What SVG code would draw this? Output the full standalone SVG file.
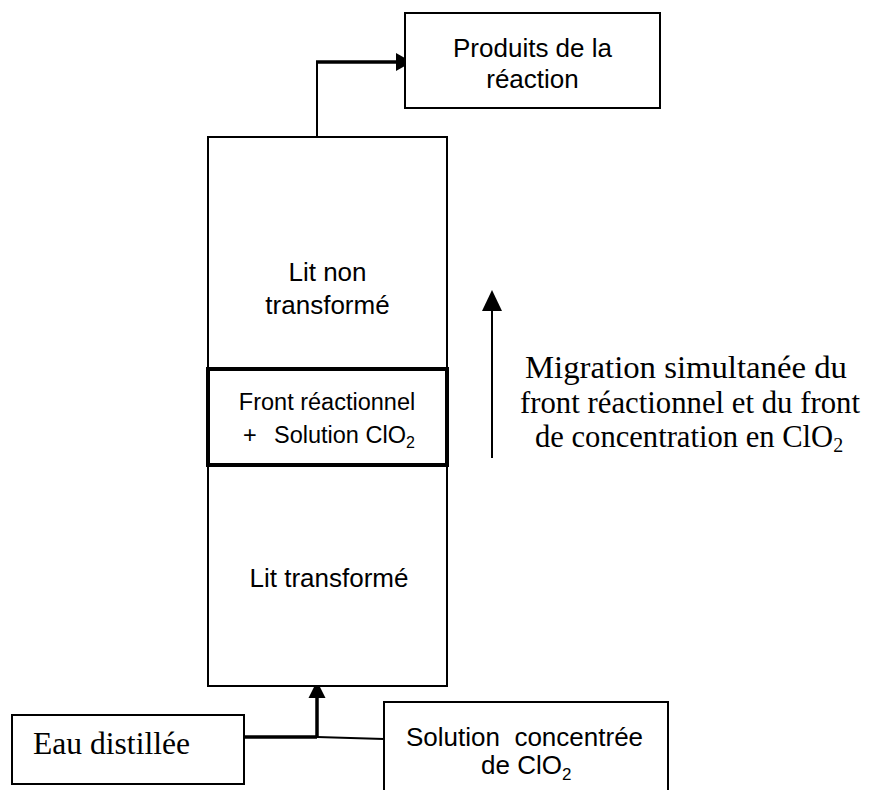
<svg xmlns="http://www.w3.org/2000/svg" width="877" height="790" viewBox="0 0 877 790">
<defs>
<style>
.box{fill:#fff;stroke:#000;stroke-width:2}
.thick{fill:none;stroke:#000;stroke-width:4}
.line{fill:none;stroke:#000;stroke-width:2}
.bold{fill:none;stroke:#000;stroke-width:3.5}
.head{fill:#000}
.sans{font-family:"Liberation Sans",Arial,sans-serif;font-size:26px;fill:#000}
.front{font-family:"Liberation Sans",Arial,sans-serif;font-size:23.5px;fill:#000}
.serif{font-family:"Liberation Serif","Times New Roman",serif;font-size:31px;fill:#000}
</style>
</defs>
<g id="connectors">
<path class="line" d="M317,137 L317,62"/>
<path class="bold" d="M316,62 L398,62"/>
<path class="head" d="M396,53 L412,62 L396,71 Z"/>
<path class="bold" d="M317,737 L317,696"/>
<path class="head" d="M308.5,698 L317,681 L325.5,698 Z"/>
<path class="bold" d="M244,737 L317,737"/>
<path class="line" d="M317,737 L384,739"/>
<path class="line" d="M492,458 L492,308"/>
<path class="head" d="M482,311 L492,290 L502,311 Z"/>
</g>
<g id="products">
<rect class="box" x="405" y="13" width="255" height="95"/>
<text class="sans" x="532.5" y="57" text-anchor="middle">Produits de la</text>
<text class="sans" x="532.5" y="88" text-anchor="middle">réaction</text>
</g>
<g id="column">
<rect class="box" x="208" y="137" width="239" height="549"/>
</g>
<g id="lit-non-transforme">
<text class="sans" x="327.5" y="281" text-anchor="middle">Lit non</text>
<text class="sans" x="327.5" y="314" text-anchor="middle">transformé</text>
</g>
<g id="front">
<rect class="thick" x="208" y="369" width="239" height="96"/>
<text class="front" x="327" y="410" text-anchor="middle">Front réactionnel</text>
<text class="front" x="243" y="443">+</text>
<text class="front" x="274" y="443">Solution ClO<tspan dy="5" style="font-size:16px">2</tspan></text>
</g>
<g id="lit-transforme">
<text class="sans" x="329" y="587" text-anchor="middle">Lit transformé</text>
</g>
<g id="migration">
<text class="serif" x="525" y="378" textLength="322" lengthAdjust="spacingAndGlyphs">Migration simultanée du</text>
<text class="serif" x="520" y="413" textLength="340" lengthAdjust="spacingAndGlyphs">front réactionnel et du front</text>
<text class="serif" x="535" y="447" style="font-size:30.6px">de concentration en ClO<tspan dy="5" style="font-size:20px">2</tspan></text>
</g>
<g id="eau">
<rect class="box" x="12" y="715" width="232" height="69"/>
<text class="serif" x="33" y="754" textLength="157" lengthAdjust="spacingAndGlyphs">Eau distillée</text>
</g>
<g id="solution">
<rect class="box" x="384" y="702" width="284" height="100"/>
<text class="sans" x="406" y="746" xml:space="preserve">Solution  concentrée</text>
<text class="sans" x="481" y="774">de ClO<tspan dy="6" style="font-size:17px">2</tspan></text>
</g>
</svg>
